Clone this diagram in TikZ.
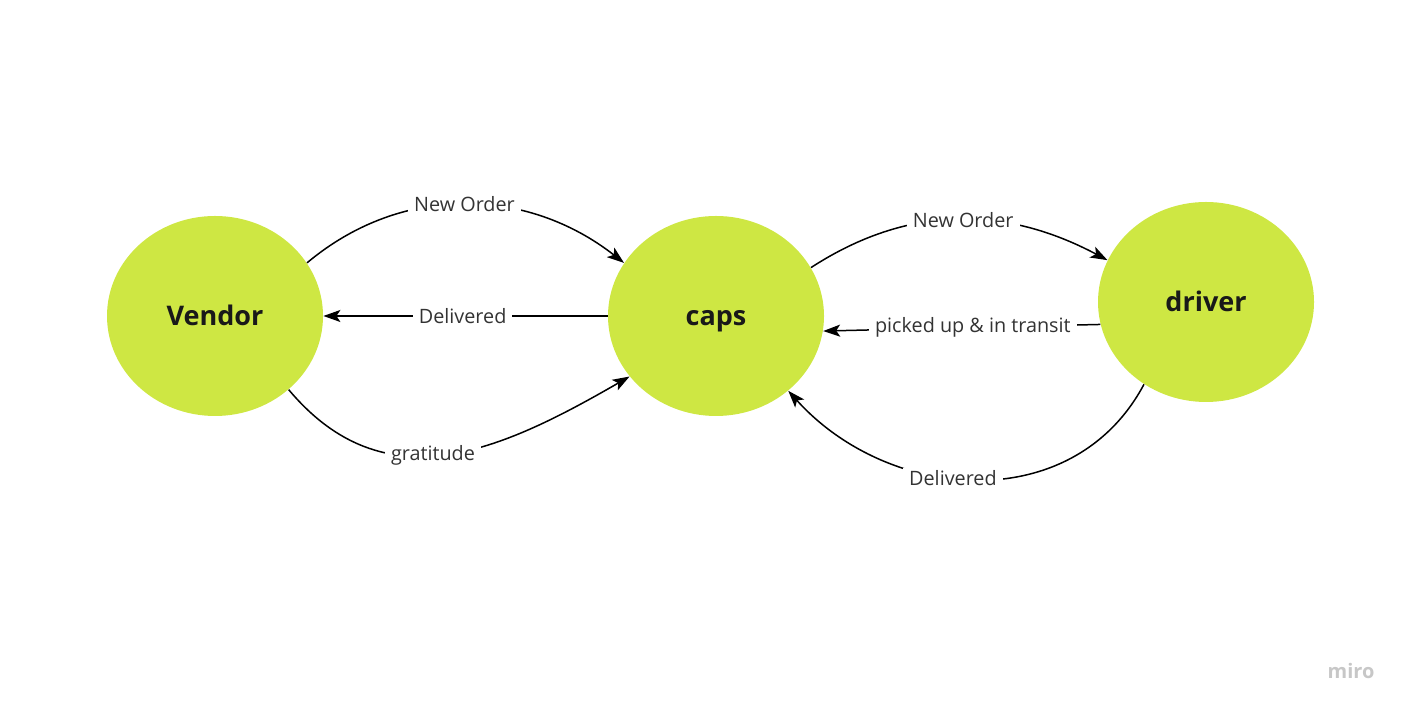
\documentclass[tikz,border=0pt]{standalone}
\usepackage{fontspec}
\setmainfont{Open Sans}
\usetikzlibrary{shapes.geometric,arrows.meta}
\definecolor{lime}{RGB}{206,231,67}
\definecolor{testo}{RGB}{51,51,51}
\begin{document}
\begin{tikzpicture}[x=0.5pt, y=0.5pt,
    stato/.style={ellipse, fill=lime, minimum width=108pt, minimum height=100pt, inner sep=0pt, text height=10pt, text depth=0pt, font=\fontsize{13.5}{16}\selectfont\bfseries, text=black!90},
    freccia/.style={-{Stealth[length=8.5pt, width=6pt, inset=2pt]}, line width=0.75pt, black},
    etichetta/.style={fill=white, inner xsep=3pt, inner ysep=1pt, font=\fontsize{9.9}{11}\selectfont, text=testo}]
            \useasboundingbox (0,0) rectangle (1406,710);
            % Nodi
            \node[stato] (v) at (215,394) {Vendor};
            \node[stato] (c) at (716,394) {caps};
            \node[stato] (d) at (1206,408) {driver};
            \node[font=\fontsize{10}{12}\selectfont\bfseries, text=black!22] (m) at (1351,39) {miro};

            % Archi
            \draw (v.30) edge[freccia, out=40, in=142] node[etichetta, pos=0.5] {New Order} (c.150);
            \draw (c.west) edge[freccia] node[etichetta, pos=0.51] {Delivered} (v.east);
            \draw (v.-45) edge[freccia, out=-50, in=-150, looseness=1.12] node[etichetta, pos=0.46] {gratitude} (c.215);
            \draw (c.27) edge[freccia, out=33, in=152] node[etichetta, pos=0.52] {New Order} (d.157);
            \draw (d.192) edge[freccia] node[etichetta, pos=0.46] {picked up \& in transit} (c.352);
            \draw (d.233) edge[freccia, out=-118, in=-48, looseness=1.08] node[etichetta, pos=0.56] {Delivered} (c.-46);
        \end{tikzpicture}
\end{document}
